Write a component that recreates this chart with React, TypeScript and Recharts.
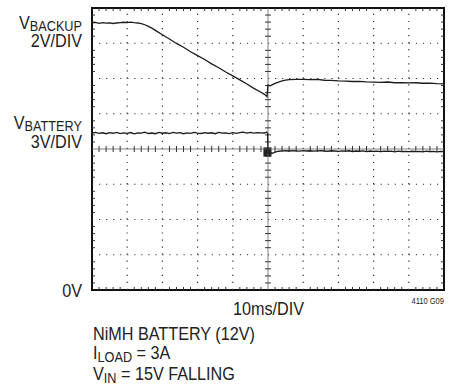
import { LineChart, Line, XAxis, YAxis, ReferenceLine, ReferenceArea } from "recharts";

// time base: 10ms/DIV, 10 divisions
const timeTicks = [0, 10, 20, 30, 40, 50, 60, 70, 80, 90, 100];
// vertical: 8 divisions; graticule drawn on the 3V/DIV battery scale
const voltTicks = [0, 3, 6, 9, 12, 15, 18, 21, 24];

const backupTime = [
  0, 1, 2, 3, 4, 5, 6, 7, 8, 9, 10, 11, 12, 13, 14, 15, 16, 17, 18,
  20, 22, 24, 26, 28, 30, 32, 34, 36, 38, 40, 42, 44, 46, 48,
  49, 49.7, 50, 50.6, 51, 52, 53, 54, 55, 56,
  58, 60, 62, 64, 66, 68, 70, 72, 74, 76, 78, 80, 82, 84, 86, 88, 90, 92, 94, 96, 98, 100,
];
const backupVolts = [
  15.15, 15.18, 15.13, 15.17, 15.14, 15.16, 15.12, 15.15, 15.17, 15.19, 15.17, 15.2, 15.17, 15.15, 15.11, 15.05, 14.96, 14.86, 14.73,
  14.48, 14.24, 13.99, 13.77, 13.52, 13.3, 13.08, 12.83, 12.61, 12.37, 12.15, 11.92, 11.69, 11.44, 11.22,
  11.1, 10.97, 11.63, 11.58, 11.62, 11.72, 11.8, 11.86, 11.91, 11.94,
  11.95, 11.95, 11.94, 11.95, 11.9, 11.89, 11.86, 11.85, 11.83, 11.84, 11.81, 11.8, 11.78, 11.8, 11.76, 11.77, 11.75, 11.76, 11.73, 11.74, 11.71, 11.7,
];

const batteryTime = [
  0, 1, 2, 3, 4, 5, 6, 7, 8, 9, 10, 11, 12, 13, 14, 15, 16, 17, 18, 19, 20, 21, 22, 23, 24,
  25, 26, 27, 28, 29, 30, 31, 32, 33, 34, 35, 36, 37, 38, 39, 40, 41, 42, 43, 44, 45, 46, 47, 48, 49,
  49.6, 49.9, 50, 51.3, 52, 53, 54,
  55, 56, 57, 58, 59, 60, 61, 62, 63, 64, 65, 66, 67, 68, 69, 70, 71, 72, 73, 74, 75, 76, 77,
  78, 79, 80, 81, 82, 83, 84, 85, 86, 87, 88, 89, 90, 91, 92, 93, 94, 95, 96, 97, 98, 99, 100,
];
const batteryVolts = [
  13.36, 13.41, 13.33, 13.38, 13.3, 13.39, 13.34, 13.42, 13.31, 13.37, 13.33, 13.4, 13.29, 13.38, 13.35, 13.43, 13.32, 13.36, 13.3, 13.41, 13.34, 13.38, 13.31, 13.42, 13.35,
  13.39, 13.3, 13.37, 13.33, 13.41, 13.36, 13.32, 13.4, 13.34, 13.38, 13.3, 13.42, 13.35, 13.37, 13.31, 13.4, 13.33, 13.39, 13.44, 13.36, 13.42, 13.35, 13.4, 13.38, 13.36,
  13.45, 13.32, 11.7, 11.64, 11.74, 11.81, 11.84,
  11.85, 11.83, 11.86, 11.84, 11.82, 11.86, 11.83, 11.85, 11.82, 11.84, 11.86, 11.83, 11.81, 11.85, 11.83, 11.8, 11.84, 11.82, 11.85, 11.79, 11.83, 11.81, 11.84,
  11.78, 11.83, 11.8, 11.82, 11.77, 11.82, 11.79, 11.81, 11.76, 11.82, 11.78, 11.8, 11.77, 11.81, 11.78, 11.8, 11.76, 11.81, 11.77, 11.79, 11.76, 11.8, 11.78,
];

const backupData = backupTime.map((t, i) => ({ t, v: backupVolts[i] }));
const batteryData = batteryTime.map((t, i) => ({ t, v: batteryVolts[i] }));

const W = 459;
const H = 385;
const TRACE = "#1c1c1c";
const GRID = "#333";
const TICK_X = 0.85; // ~3px in ms
const TICK_Y = 0.26; // ~3px in volts (3V/DIV)

// minor graticule positions (1/5 division)
const minorT: number[] = [];
for (let i = 1; i < 50; i++) if (i % 5 !== 0) minorT.push(i * 2);
const minorV: number[] = [];
for (let i = 1; i < 40; i++) if (i % 5 !== 0) minorV.push(i * 0.6);

const Txt = ({ x, y, anchor = "start", size = 18.5, children }: any) => (
  <text
    transform={`translate(${x},${y}) scale(0.876,1)`}
    textAnchor={anchor}
    fontSize={size}
    fontFamily="'Liberation Sans', Arial, sans-serif"
    fill="#222"
  >
    {children}
  </text>
);

const Sub = ({ children, dy = 2, size = 14.5 }: any) => (
  <tspan fontSize={size} dy={dy}>
    {children}
  </tspan>
);

export default function App() {
  const seg = (key: string, x1: number, y1: number, x2: number, y2: number) => (
    <ReferenceLine
      key={key}
      xAxisId="t"
      yAxisId="battery"
      segment={[{ x: x1, y: y1 }, { x: x2, y: y2 }]}
      stroke={GRID}
      strokeWidth={1}
      ifOverflow="visible"
    />
  );

  return (
    <div style={{ position: "absolute", left: 0, top: 0, width: W, height: H, background: "#fff" }}>
      <LineChart width={W} height={H} margin={{ top: 8, right: 15, bottom: 95, left: 92 }}>
        <XAxis xAxisId="t" type="number" dataKey="t" domain={[0, 100]} ticks={timeTicks} hide allowDataOverflow />
        <YAxis yAxisId="backup" type="number" domain={[0, 16]} hide allowDataOverflow />
        <YAxis yAxisId="battery" type="number" domain={[0, 24]} ticks={voltTicks} hide allowDataOverflow />

        {/* dotted graticule */}
        {timeTicks
          .filter((t) => t > 0 && t < 100 && t !== 50)
          .map((t) => (
            <ReferenceLine key={`gx${t}`} xAxisId="t" yAxisId="battery" x={t} stroke={GRID} strokeWidth={1.2} strokeDasharray="1.2 5.85" />
          ))}
        {voltTicks
          .filter((v) => v > 0 && v < 24 && v !== 12)
          .map((v) => (
            <ReferenceLine key={`gy${v}`} xAxisId="t" yAxisId="battery" y={v} stroke={GRID} strokeWidth={1.2} strokeDasharray="1.2 5.84" />
          ))}

        {/* centre axes */}
        <ReferenceLine xAxisId="t" yAxisId="battery" x={50} stroke="#666" strokeWidth={0.8} />
        <ReferenceLine xAxisId="t" yAxisId="battery" y={12} stroke="#666" strokeWidth={0.8} />
        {minorT.map((t) => seg(`cx${t}`, t, 12 - TICK_Y, t, 12 + TICK_Y))}
        {minorV.map((v) => seg(`cy${v}`, 50 - TICK_X, v, 50 + TICK_X, v))}

        {/* border ticks */}
        {minorT.map((t) => seg(`tt${t}`, t, 24, t, 24 - TICK_Y))}
        {minorT.map((t) => seg(`bt${t}`, t, 0, t, TICK_Y))}
        {minorV.map((v) => seg(`lt${v}`, 0, v, TICK_X, v))}
        {minorV.map((v) => seg(`rt${v}`, 100, v, 100 - TICK_X, v))}

        {/* trigger marker */}
        <ReferenceArea xAxisId="t" yAxisId="battery" x1={48.7} x2={51} y1={11.35} y2={12.14} fill="#222" fillOpacity={1} stroke="none" />

        <Line
          xAxisId="t"
          yAxisId="backup"
          data={backupData}
          dataKey="v"
          type="linear"
          stroke={TRACE}
          strokeWidth={1.3}
          dot={false}
          isAnimationActive={false}
        />
        <Line
          xAxisId="t"
          yAxisId="battery"
          data={batteryData}
          dataKey="v"
          type="linear"
          stroke={TRACE}
          strokeWidth={1.3}
          dot={false}
          isAnimationActive={false}
        />

        {/* frame */}
        <ReferenceArea xAxisId="t" yAxisId="battery" x1={0} x2={100} y1={0} y2={24} fill="none" stroke="#111" strokeWidth={2} ifOverflow="visible" />
      </LineChart>

      <svg width={W} height={H} style={{ position: "absolute", left: 0, top: 0, pointerEvents: "none" }}>
        <Txt x={82} y={29} anchor="end">
          V<Sub dy={1.5}>BACKUP</Sub>
        </Txt>
        <Txt x={82} y={46.5} anchor="end">2V/DIV</Txt>
        <Txt x={82} y={129} anchor="end">
          V<Sub dy={2}>BATTERY</Sub>
        </Txt>
        <Txt x={82} y={147.5} anchor="end">3V/DIV</Txt>
        <Txt x={82} y={296.5} anchor="end">0V</Txt>
        <Txt x={268.5} y={315} anchor="middle">10ms/DIV</Txt>
        <Txt x={444} y={304} anchor="end" size={8.6}>4110 G09</Txt>
        <Txt x={93} y={340}>NiMH BATTERY (12V)</Txt>
        <Txt x={93} y={358.5}>
          I<Sub dy={3}>LOAD</Sub>
          <tspan dy={-3}> = 3A</tspan>
        </Txt>
        <Txt x={93} y={379.5}>
          V<Sub dy={3}>IN</Sub>
          <tspan dy={-3}> = 15V FALLING</tspan>
        </Txt>
      </svg>
    </div>
  );
}
